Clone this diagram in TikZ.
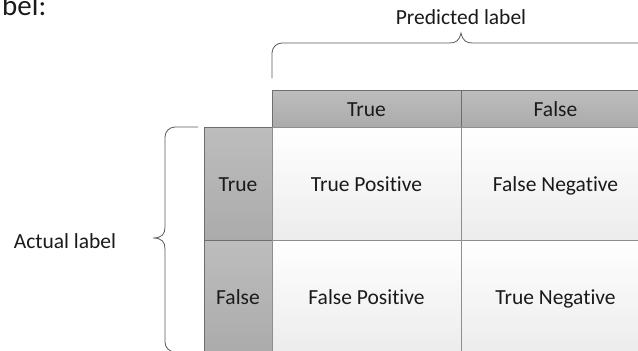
\documentclass[tikz,border=0pt]{standalone}
\usepackage{fontspec}
\setmainfont{Carlito}[Ligatures=NoCommon]
\usepackage{xcolor}
\definecolor{cmHeadTop}{HTML}{BDBDBD}
\definecolor{cmHeadBot}{HTML}{ABABAB}
\definecolor{cmBodyTop}{HTML}{FFFFFF}
\definecolor{cmBodyBot}{HTML}{ECECEC}
\definecolor{cmEdge}{HTML}{6E6E6E}
\definecolor{cmGrid}{HTML}{8E8E8E}
\definecolor{cmBrace}{HTML}{5C5C5C}
\definecolor{cmText}{HTML}{1A1A1A}

\begin{document}
\begin{tikzpicture}[x=1pt,y=-1pt, every node/.style={font=\fontsize{21.5}{25}\selectfont, text=cmText},
    headcell/.style={draw=cmEdge, line width=0.9pt, top color=cmHeadTop, bottom color=cmHeadBot, minimum width=189pt, minimum height=37pt, inner sep=0pt, text height=15pt, text depth=0pt},
    sidecell/.style={draw=cmEdge, line width=0.9pt, top color=cmHeadTop, bottom color=cmHeadBot, minimum width=68pt, minimum height=113pt, inner sep=0pt, text height=16pt, text depth=0pt},
    bodycell/.style={draw=cmGrid, line width=0.9pt, top color=cmBodyTop, bottom color=cmBodyBot, minimum width=189pt, minimum height=113pt, inner sep=0pt, text height=16pt, text depth=0pt},
    brace line/.style={draw=cmBrace, line width=0.8pt}]
    \useasboundingbox (0,0) rectangle (638,351);
    % cut-off caption text above
    \node[anchor=base west, inner sep=0pt, font=\fontsize{29}{33}\selectfont] (cap) at (2,15) {bel:};
    % header row
    \node[headcell] (hdTrue) at (366.5,108.5) {True};
    \node[headcell] (hdFalse) at (555.5,108.5) {False};
    % side column
    \node[sidecell] (rowTrue) at (238,183.5) {True};
    \node[sidecell] (rowFalse) at (238,296.5) {False};
    % body cells
    \node[bodycell] (tp) at (366.5,183.5) {True Positive};
    \node[bodycell] (fn) at (555.5,183.5) {False Negative};
    \node[bodycell] (fp) at (366.5,296.5) {False Positive};
    \node[bodycell] (tn) at (555.5,296.5) {True Negative};
    % braces
    \draw[brace line, rounded corners=10pt] (272,78) -- (272,43) -- (420,43) [sharp corners] -- (449,43)
      .. controls (456,43) and (459,41) .. (461,33) .. controls (463,41) and (466,43) .. (473,43) -- (650,43);
    \node[anchor=base, inner sep=0pt] (predLbl) at (461,24) {Predicted label};
    \draw[brace line, rounded corners=10pt] (198,127) -- (165,127) -- (165,200) [sharp corners] -- (165,227)
      .. controls (165,234) and (162,238) .. (153,238) .. controls (162,238) and (165,242) .. (165,249)
      [rounded corners=10pt] -- (165,352) -- (198,352);
    \node[anchor=base, inner sep=0pt] (actLbl) at (65,248) {Actual label};
\end{tikzpicture}
\end{document}
